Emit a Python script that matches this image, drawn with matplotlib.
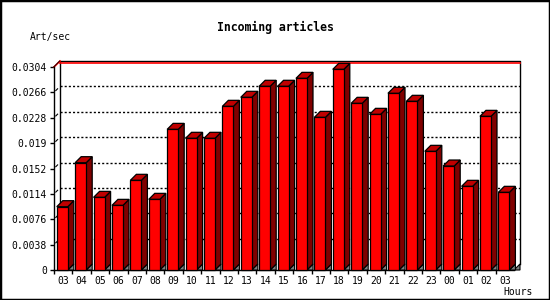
import matplotlib
matplotlib.use('Agg')
import matplotlib.pyplot as plt
from matplotlib.patches import Polygon, Rectangle

hours = ['03', '04', '05', '06', '07', '08', '09', '10', '11', '12', '13', '14', '15',
         '16', '17', '18', '19', '20', '21', '22', '23', '00', '01', '02', '03']
rates = [0.00948, 0.01607, 0.01088, 0.00968, 0.01343, 0.01058, 0.02106, 0.01972,
         0.01972, 0.02451, 0.02586, 0.02751, 0.02751, 0.02870, 0.02286, 0.03005,
         0.02496, 0.02331, 0.02646, 0.02526, 0.01777, 0.01557, 0.01253, 0.02301,
         0.01163]
yticks = [0, 0.0038, 0.0076, 0.0114, 0.0152, 0.019, 0.0228, 0.0266, 0.0304]
ymax = 0.0304

plt.rcParams['lines.scale_dashes'] = False
mono = 'DejaVu Sans Mono'

W, H = 550, 300
fig = plt.figure(figsize=(W / 100, H / 100), dpi=100)
fig.patch.set_facecolor('white')
# outer border
fig.add_artist(Rectangle((0, 0), 1, 1, transform=fig.transFigure, fill=False,
                         edgecolor='black', linewidth=2.5))

# front plane of the chart in pixels
left, right, bottom, top = 54, 514, 270, 67
ax = fig.add_axes([left / W, (H - bottom) / H, (right - left) / W, (bottom - top) / H])
ax.set_facecolor('none')
n = len(rates)
ax.set_xlim(-0.5, n - 0.5)
ax.set_ylim(0, ymax)

# depth of the 3d effect (6 px right, 6 px up) in data units
dx = 6 * n / (right - left)
dy = 6 * ymax / (bottom - top)

for s in ['top', 'right']:
    ax.spines[s].set_visible(False)
for s in ['left', 'bottom']:
    ax.spines[s].set_linewidth(1)

x0, x1 = -0.5, n - 0.5
# back wall
ax.plot([x0 + dx, x0 + dx, x1 + dx, x1 + dx], [dy, ymax + dy, ymax + dy, dy],
        color='black', lw=1, clip_on=False, zorder=1)
# floor right edge
ax.add_patch(Polygon([(x1, 0), (x1 + dx, dy), (x1 + dx, 0)], closed=True,
                     facecolor='#808080', edgecolor='black', lw=0.8, clip_on=False, zorder=1))
# grid on back wall
for v in yticks[1:-1]:
    ax.plot([x0 + dx, x1 + dx], [v + dy, v + dy], color='black', lw=1,
            dashes=(1.5, 1.5), clip_on=False, zorder=1)
    ax.plot([x0 + dx * 0.3, x0 + dx * 0.6], [v + dy * 0.3, v + dy * 0.6],
            color='black', lw=0.8, clip_on=False, zorder=1)
# max line (red)
ax.plot([x0 + dx, x1 + dx], [ymax + dy * 0.75, ymax + dy * 0.75], color='red',
        lw=1.2, clip_on=False, zorder=2)
ax.plot([x0, x0 + dx], [ymax, ymax + dy], color='red', lw=1.2, clip_on=False, zorder=2)
ax.plot([x0 - 0.02, x0 + dx - 0.02], [ymax, ymax + dy], color='black', lw=0.6,
        clip_on=False, zorder=2)

# bars
bl, br = 0.35, 0.25
for i, v in enumerate(rates):
    xl, xr = i - bl, i + br
    ax.add_patch(Polygon([(xr, 0), (xr + dx, dy), (xr + dx, 0)], closed=True,
                         facecolor='#808080', edgecolor='black', lw=0.8, clip_on=False, zorder=3))
    ax.add_patch(Polygon([(xr, 0), (xr, v), (xr + dx, v + dy), (xr + dx, dy)], closed=True,
                         facecolor='#800000', edgecolor='black', lw=0.9, clip_on=False, zorder=4))
    ax.add_patch(Polygon([(xl, v), (xl + dx, v + dy), (xr + dx, v + dy), (xr, v)], closed=True,
                         facecolor='#c00000', edgecolor='black', lw=0.9, clip_on=False, zorder=4))
    ax.add_patch(Rectangle((xl, 0), xr - xl, v, facecolor='#ff0000', edgecolor='black',
                           lw=0.9, clip_on=False, zorder=5))

ax.set_yticks(yticks)
ax.set_yticklabels([('%.4f' % t).rstrip('0').rstrip('.') if t else '0' for t in yticks],
                   fontfamily=mono, fontsize=7)
ax.tick_params(axis='y', length=3, width=1, pad=2)
ax.set_xticks(range(n))
ax.set_xticklabels(hours, fontfamily=mono, fontsize=7)
ax.set_xticks([i - 0.5 for i in range(n)], minor=True)
ax.tick_params(axis='x', which='major', length=0, pad=4)
ax.tick_params(axis='x', which='minor', length=3, width=1)

fig.text(275 / W, 1 - 27 / H, 'Incoming articles', ha='center', va='center',
         fontfamily=mono, fontsize=8.3, fontweight='bold')
fig.text(30 / W, 1 - 37 / H, 'Art/sec', ha='left', va='center', fontfamily=mono, fontsize=7)
fig.text(533 / W, 1 - 292 / H, 'Hours', ha='right', va='center', fontfamily=mono, fontsize=7)

fig.savefig('out.png', dpi=100, facecolor='white')
